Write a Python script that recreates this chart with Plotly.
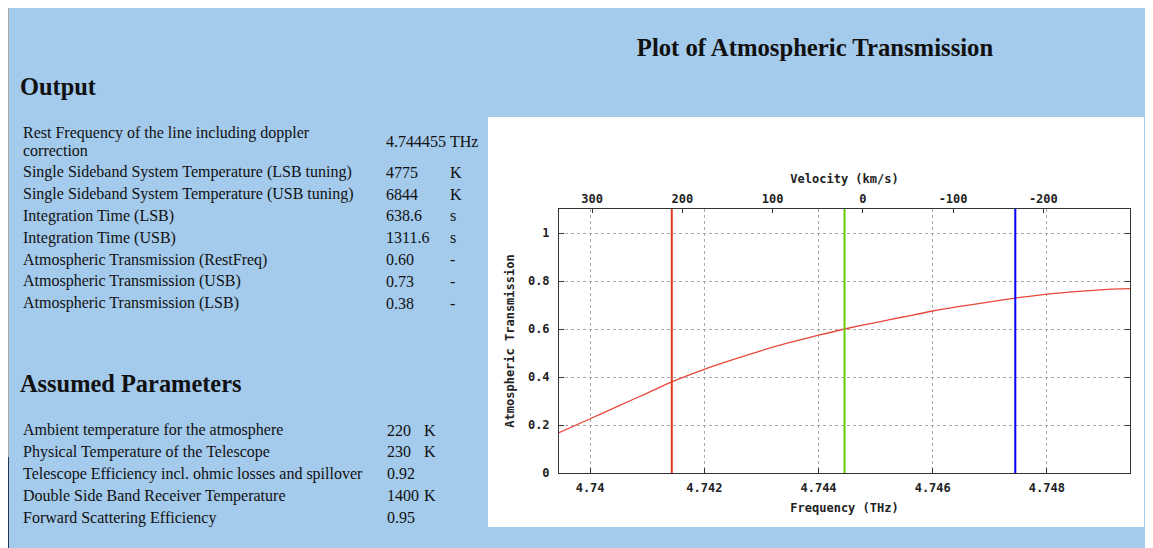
import plotly.graph_objects as go

# ---------------- data ----------------
freq_thz = [4.739455, 4.74, 4.7405, 4.741, 4.74143, 4.742, 4.7425, 4.743, 4.7435,
            4.744, 4.744455, 4.745, 4.7455, 4.746, 4.7465, 4.747, 4.747446,
            4.748, 4.7485, 4.749, 4.749455]
transmission = [0.168, 0.226, 0.280, 0.333, 0.380, 0.432, 0.472, 0.510, 0.544,
                0.574, 0.600, 0.627, 0.651, 0.675, 0.695, 0.713, 0.729,
                0.745, 0.756, 0.764, 0.768]

marker_names = ["LSB", "RestFreq", "USB"]
marker_freqs = [4.74143, 4.744455, 4.747446]
marker_colors = ["#DC3A1E", "#66CC00", "#0000FF"]

freq_ticks = [4.740, 4.742, 4.744, 4.746, 4.748]
freq_ticktext = ["4.74", "4.742", "4.744", "4.746", "4.748"]
trans_ticks = [0, 0.2, 0.4, 0.6, 0.8, 1.0]
trans_ticktext = ["0", "0.2", "0.4", "0.6", "0.8", "1"]
vel_ticks = [300, 200, 100, 0, -100, -200]
vel_ticktext = ["300", "200", "100", "0", "-100", "-200"]
freq_range = [4.739455, 4.749455]
vel_range = [336.6, -296.0]
trans_range = [0, 1.1]

output_labels = ["Rest Frequency of the line including doppler\ncorrection",
                 "Single Sideband System Temperature (LSB tuning)",
                 "Single Sideband System Temperature (USB tuning)",
                 "Integration Time (LSB)",
                 "Integration Time (USB)",
                 "Atmospheric Transmission (RestFreq)",
                 "Atmospheric Transmission (USB)",
                 "Atmospheric Transmission (LSB)"]
output_values = ["4.744455", "4775", "6844", "638.6", "1311.6", "0.60", "0.73", "0.38"]
output_units = ["THz", "K", "K", "s", "s", "-", "-", "-"]

param_labels = ["Ambient temperature for the atmosphere",
                "Physical Temperature of the Telescope",
                "Telescope Efficiency incl. ohmic losses and spillover",
                "Double Side Band Receiver Temperature",
                "Forward Scattering Efficiency"]
param_values = ["220", "230", "0.92", "1400", "0.95"]
param_units = ["K", "K", "", "K", ""]

# ---------------- layout geometry (page pixels) ----------------
OFF = 8                      # page body margin
PAGE_W, PAGE_H = 1153, 548
W, H = PAGE_W - OFF, PAGE_H - OFF
PL, PR, PT, PB = 559, 1130, 209, 473   # plot area in page pixels
BG = "#A4CAEC"
SERIF = "Liberation Serif"
MONO = "DejaVu Sans Mono"


def px(x):
    return (x - PL) / (PR - PL)


def py(y):
    return (PB - y) / (PB - PT)


fig = go.Figure()

fig.add_trace(go.Scatter(x=freq_thz, y=transmission, mode="lines",
                         line=dict(color="#E8473A", width=1.3, shape="spline", smoothing=0.6),
                         showlegend=False, hoverinfo="x+y"))
for name, f, c in zip(marker_names, marker_freqs, marker_colors):
    fig.add_trace(go.Scatter(x=[f, f], y=trans_range, mode="lines", name=name,
                             line=dict(color=c, width=2), showlegend=False))
# velocity axis carrier (invisible)
fig.add_trace(go.Scatter(x=vel_range, y=[None, None], xaxis="x2", mode="lines",
                         showlegend=False, hoverinfo="skip"))

shapes = []


def rect(x0, y0, x1, y1, color):
    shapes.append(dict(type="rect", xref="paper", yref="paper", layer="below",
                       x0=px(x0), x1=px(x1), y0=py(y0), y1=py(y1),
                       fillcolor=color, line=dict(width=0)))


rect(488, 117, 1144, 527, "white")
shapes.append(dict(type="line", xref="paper", yref="paper", layer="below",
                   x0=px(OFF + 0.5), x1=px(OFF + 0.5), y0=py(OFF), y1=py(457),
                   line=dict(color="#A8A8A8", width=1)))
shapes.append(dict(type="line", xref="paper", yref="paper", layer="below",
                   x0=px(OFF + 0.5), x1=px(OFF + 0.5), y0=py(457), y1=py(PAGE_H),
                   line=dict(color="#2A3550", width=1)))

annotations = []


def text(x, y, s, size=16, bold=False, anchor="left"):
    annotations.append(dict(xref="paper", yref="paper", x=px(x), y=py(y),
                            text=s, showarrow=False, xanchor=anchor, yanchor="middle",
                            font=dict(family=SERIF, size=size, color="#111111",
                                      weight="bold" if bold else "normal")))


text(18, 86, "Output", size=24.4, bold=True)
text(18, 383, "Assumed Parameters", size=24.4, bold=True)

# output table
row_y = [141.7] + [172.3 + 21.8 * i for i in range(len(output_labels) - 1)]
for lab, val, unit, y in zip(output_labels, output_values, output_units, row_y):
    lines = lab.split("\n")
    if len(lines) == 2:
        text(21, y - 9, lines[0])
        text(21, y + 8.5, lines[1])
    else:
        text(21, y, lab)
    text(384, y, val)
    text(448, y, unit)

# parameter table
for i, (lab, val, unit) in enumerate(zip(param_labels, param_values, param_units)):
    y = 430 + 21.9 * i
    text(21, y, lab)
    text(385, y, val)
    if unit:
        text(422, y, unit)

tickfont = dict(family=MONO, size=12, color="#222222", weight="bold")
axis_line = "#333333"
grid = dict(showgrid=True, gridcolor="#A8A8A8", griddash="dot", gridwidth=1)

fig.update_layout(
    width=W, height=H,
    margin=dict(l=PL - OFF, r=PAGE_W - PR, t=PT - OFF, b=PAGE_H - PB, pad=0),
    paper_bgcolor=BG, plot_bgcolor="white",
    showlegend=False,
    title=dict(text="<b>Plot of Atmospheric Transmission</b>",
               x=(815 - OFF) / W, y=1 - (47 - OFF) / H, xanchor="center", yanchor="middle",
               font=dict(family=SERIF, size=24.7, color="#111111")),
    xaxis=dict(range=freq_range, tickvals=freq_ticks, ticktext=freq_ticktext,
               ticks="inside", ticklen=5, tickcolor=axis_line, ticklabelstandoff=4,
               showline=True, linecolor=axis_line, linewidth=1, mirror=False,
               zeroline=False, tickfont=tickfont, automargin=False,
               title=dict(text="Frequency (THz)", font=tickfont, standoff=9),
               **grid),
    xaxis2=dict(range=vel_range, tickvals=vel_ticks, ticktext=vel_ticktext,
                overlaying="x", side="top", anchor="y",
                ticks="inside", ticklen=4, tickcolor=axis_line,
                showline=True, linecolor=axis_line, linewidth=1,
                showgrid=False, zeroline=False, tickfont=tickfont, automargin=False,
                title=dict(text="Velocity (km/s)", font=tickfont, standoff=6)),
    yaxis=dict(range=trans_range, tickvals=trans_ticks, ticktext=trans_ticktext,
               ticks="inside", ticklen=5, tickcolor=axis_line, ticklabelstandoff=6,
               showline=True, linecolor=axis_line, linewidth=1, mirror="ticks",
               zeroline=False, tickfont=tickfont, automargin=False,
               title=dict(text="Atmospheric Transmission", font=tickfont, standoff=10),
               **grid),
    shapes=shapes,
    annotations=annotations,
)

fig.write_html("out.html")
